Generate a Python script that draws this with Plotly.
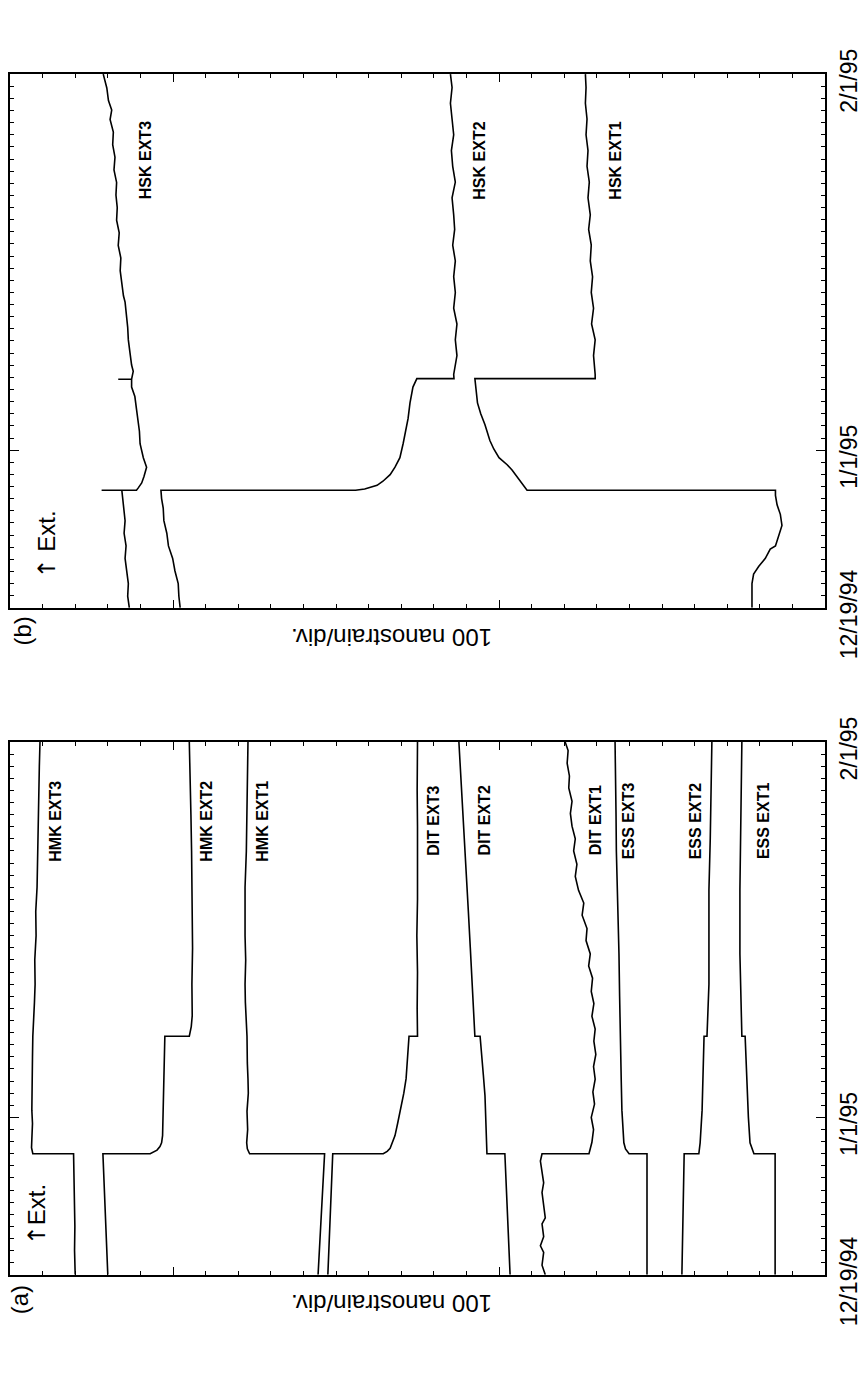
import pandas as pd
import plotly.graph_objects as go

START = pd.Timestamp("1994-12-19")

# ---------------- Panel (a): HMK, DIT and ESS extensometers ----------------
# days after 12/19/94  /  strain in nanostrain
hmk3_day = [0, 2, 4, 6, 8, 10, 10, 10.5, 11.2, 12.5, 13.6, 15, 16.5, 18, 19.7, 21, 22.5, 24, 26, 28, 30, 32, 34, 36, 38, 40, 42, 44]
hmk3_ns = [2300, 2302, 2301, 2303, 2303, 2305, 2430, 2434, 2433, 2431, 2433, 2432, 2430, 2431, 2430, 2427, 2425, 2423, 2424, 2420, 2421, 2417, 2416, 2414, 2412, 2411, 2410, 2408]

hmk2_day = [0, 2, 4, 6, 8, 10, 10, 10.3, 10.6, 10.9, 11.5, 13.6, 15.5, 17.5, 19.3, 19.7, 19.7, 20.5, 21.4, 24, 27, 30, 32, 35, 38, 41, 44]
hmk2_ns = [2200, 2203, 2205, 2208, 2212, 2215, 2070, 2049, 2040, 2035, 2032, 2030, 2029, 2027, 2025, 2025, 1950, 1944, 1941, 1942, 1940, 1941, 1940, 1943, 1945, 1947, 1950]

hmk1_day = [0, 2, 4, 6, 8, 10, 10, 10.4, 10.9, 12, 13.5, 15, 16.2, 17.5, 19.7, 21, 22.5, 24, 26, 28, 30, 32, 35, 38, 41, 44]
hmk1_ns = [1555, 1551, 1547, 1543, 1539, 1535, 1765, 1772, 1774, 1771, 1773, 1769, 1770, 1772, 1773, 1776, 1778, 1779, 1777, 1779, 1778, 1779, 1775, 1773, 1771, 1770]

dit3_day = [0, 2, 4, 6, 8, 10, 10, 10.2, 10.45, 11, 11.5, 12.5, 13.6, 15, 16.2, 17.5, 19.3, 19.7, 19.7, 22, 25, 28, 31, 34, 37, 40, 44]
dit3_ns = [1525, 1522, 1519, 1516, 1513, 1510, 1355, 1343, 1334, 1326, 1319, 1311, 1302, 1292, 1285, 1281, 1277, 1276, 1250, 1251, 1250, 1252, 1250, 1249, 1250, 1251, 1250]

dit2_day = [0, 2, 4, 6, 8, 10, 10, 11, 13, 14.8, 16.5, 18, 19.7, 19.7, 22, 24, 27, 30, 32, 34, 36.3, 38, 40, 42, 44]
dit2_ns = [966, 969, 972, 975, 978, 982, 1037, 1038, 1040, 1043, 1048, 1053, 1058, 1074, 1079, 1083, 1088, 1094, 1098, 1102, 1107, 1111, 1115, 1119, 1123]

dit1_day = [0, 0.8, 1.85, 2.4, 3.15, 4.2, 4.7, 5.75, 6.8, 7.6, 8.35, 9.4, 10, 10,
            10.95, 12.0, 13.0, 14.1, 15.1, 16.15, 17.2, 18.2, 19.3, 20.3,
            21.35, 22.4, 23.4, 24.5, 25.5, 26.5, 27.6, 28.6, 29.7, 30.7,
            31.75, 32.9, 33.9, 35.0, 36.0, 37.05, 38.1, 39.1, 40.2, 41.2,
            42.25, 43.3, 44]
dit1_ns = [858, 868, 863, 873, 863, 868, 858, 863, 868, 863, 868, 873, 868, 724,
           715, 710, 717, 707, 712, 705, 710, 703, 709, 705,
           715, 709, 717, 713, 725, 720, 733, 730, 745, 740,
           756, 766, 761, 771, 766, 776, 781, 776, 786, 784,
           791, 788, 797]

ess3_day = [0, 5, 10, 10, 10.4, 10.9, 12, 13.6, 16, 18, 20, 23, 26.5, 29, 31.8, 35, 38, 41, 44]
ess3_ns = [546, 546, 546, 601, 612, 617, 620, 623, 625, 627, 629, 630, 632, 635, 638, 640, 641, 643, 644]

ess2_day = [0, 5, 10, 10, 10.5, 10.9, 13.6, 16, 19.7, 19.7, 22, 24, 28, 31.8, 36, 40, 44]
ess2_ns = [439, 436, 432, 387, 384, 383, 377, 374, 371, 362, 358, 356, 356, 356, 352, 349, 347]

ess1_day = [0, 5, 10, 10, 10.5, 10.9, 13, 16.2, 19.7, 19.7, 23, 26.5, 31.8, 36, 40, 44]
ess1_ns = [153, 153, 153, 218, 226, 230, 235, 239, 245, 255, 259, 261, 261, 259, 257, 255]

# ---------------- Panel (b): HSK extensometers ----------------
hsk3_day = [0, 0.96, 2.0, 3.04, 4.08, 5.11, 6.15, 7.19, 8.49, 9.7, 9.7, 9.7,
            9.91, 10.3, 10.83, 11.6, 12.38, 13.53, 14.56, 15.6, 16.38, 17.42,
            18.2, 18.85, 18.85, 18.85,
            19.5, 20.02, 21.05, 22.09, 23.13, 24.17, 25.21, 25.73, 26.77, 27.8,
            28.84, 29.88, 30.92, 31.96, 33.0, 34.03, 35.07, 36.11, 37.15, 38.19,
            39.23, 40.26, 41.04, 41.82, 42.86, 44]
hsk3_ns = [2134, 2139, 2137, 2142, 2147, 2144, 2150, 2147, 2152, 2157, 2219, 2112,
           2106, 2096, 2089, 2081, 2091, 2101, 2103, 2107, 2112, 2117,
           2127, 2127, 2168, 2127,
           2122, 2127, 2132, 2137, 2139, 2142, 2147, 2152, 2157, 2162,
           2160, 2168, 2165, 2173, 2171, 2175, 2173, 2181, 2178, 2185,
           2183, 2193, 2188, 2198, 2203, 2214]

hsk2_day = [0, 0.96, 2.0, 3.04, 4.08, 5.11, 6.15, 7.19, 8.23, 9.01, 9.7, 9.7,
            9.8, 9.95, 10.1, 10.44, 10.98, 11.6, 12.38, 13.55, 14.6, 15.6,
            16.9, 18.2, 18.9, 18.9,
            19.24, 20.8, 22.1, 23.4, 24.7, 26.0, 27.3, 28.6, 29.9, 31.2,
            32.4, 33.8, 35.1, 36.4, 37.7, 39.0, 40.3, 41.6, 42.9, 44]
hsk2_ns = [1978, 1982, 1984, 1994, 2001, 2014, 2019, 2028, 2030, 2035, 2037, 1440,
           1412, 1392, 1374, 1356, 1334, 1319, 1304, 1294, 1286, 1279,
           1273, 1264, 1252, 1138,
           1139, 1129, 1134, 1129, 1139, 1134, 1139, 1134, 1142, 1136,
           1139, 1144, 1134, 1142, 1146, 1139, 1144, 1149, 1144, 1149]

hsk1_day = [0, 0.3, 2.0, 2.78, 3.43, 4.08, 4.85, 5.11, 5.89, 6.8, 7.71, 8.49, 9.27, 9.7, 9.7,
            10.28, 10.8, 11.37, 11.8, 12.38, 13.1, 13.8, 15.1, 16.0, 16.9, 17.9, 18.9, 18.9,
            19.24, 20.8, 22.1, 23.4, 24.7, 26.0, 27.3, 28.6, 29.9, 31.2,
            32.4, 33.8, 35.1, 36.4, 37.7, 39.0, 40.3, 41.6, 42.9, 44]
hsk1_ns = [224, 224, 224, 219, 203, 183, 168, 152, 142, 132, 137, 147, 152, 152, 914,
           929, 945, 960, 975, 1000, 1016, 1028, 1043, 1056, 1066, 1070, 1074, 705,
           705, 710, 705, 716, 710, 717, 713, 720, 717, 725,
           720, 727, 723, 730, 727, 733, 730, 735, 733, 735]

# Series labels
labels_a = ["HMK EXT3", "HMK EXT2", "HMK EXT1", "DIT EXT3", "DIT EXT2",
            "DIT EXT1", "ESS EXT3", "ESS EXT2", "ESS EXT1"]
labels_b = ["HSK EXT3", "HSK EXT2", "HSK EXT1"]

# Time-axis ticks
tick_dates = ["1994-12-19", "1995-01-01", "1995-02-01"]
tick_text = ["12/19/94", "1/1/95", "2/1/95"]


def to_dates(days):
    return [START + pd.Timedelta(days=d) for d in days]


FONT = "Liberation Sans, Arial, sans-serif"
W, H = 864, 1374
LINE = dict(color="black", width=1.6)

fig = go.Figure()

series_a = [(hmk3_day, hmk3_ns), (hmk2_day, hmk2_ns), (hmk1_day, hmk1_ns),
            (dit3_day, dit3_ns), (dit2_day, dit2_ns), (dit1_day, dit1_ns),
            (ess3_day, ess3_ns), (ess2_day, ess2_ns), (ess1_day, ess1_ns)]
series_b = [(hsk3_day, hsk3_ns), (hsk2_day, hsk2_ns), (hsk1_day, hsk1_ns)]

for (days, vals), name in zip(series_a, labels_a):
    fig.add_trace(go.Scatter(x=vals, y=to_dates(days), mode="lines", name=name,
                             line=LINE, xaxis="x", yaxis="y",
                             showlegend=False, hoverinfo="skip"))
for (days, vals), name in zip(series_b, labels_b):
    fig.add_trace(go.Scatter(x=vals, y=to_dates(days), mode="lines", name=name,
                             line=LINE, xaxis="x2", yaxis="y2",
                             showlegend=False, hoverinfo="skip"))

x_dom = [10 / W, 825 / W]
ya_dom = [1 - 1323 / H, 1 - 759 / H]
yb_dom = [1 - 617 / H, 1 - 52 / H]

strain_axis = dict(
    range=[2500, 0], tickmode="linear", tick0=0, dtick=1000,
    ticks="inside", ticklen=8, tickwidth=1.3, tickcolor="black",
    showticklabels=False, showline=True, linewidth=1.8, linecolor="black",
    mirror="allticks", showgrid=False, zeroline=False,
    minor=dict(tickmode="linear", tick0=0, dtick=100, ticks="inside",
               ticklen=4, tickwidth=1.2, tickcolor="black", showgrid=False),
    domain=x_dom,
)

time_axis = dict(
    type="date", range=["1994-12-19", "1995-02-01"], side="right",
    tickmode="array", tickvals=tick_dates, ticktext=tick_text, tickangle=-90,
    ticks="inside", ticklen=9, tickwidth=1.3, tickcolor="black",
    tickfont=dict(family=FONT, size=23, color="black"),
    ticklabelshift=10, ticklabelstandoff=2,
    showline=True, linewidth=1.8, linecolor="black", mirror="allticks",
    showgrid=False, zeroline=False,
    minor=dict(tickmode="linear", tick0="1994-12-19", dtick=86400000,
               ticks="inside", ticklen=4, tickwidth=1.2, tickcolor="black",
               showgrid=False),
)

fig.update_layout(
    width=W, height=H,
    margin=dict(l=0, r=0, t=0, b=0),
    paper_bgcolor="white", plot_bgcolor="white",
    showlegend=False,
    xaxis=dict(strain_axis, anchor="y"),
    yaxis=dict(time_axis, anchor="x", domain=ya_dom),
    xaxis2=dict(strain_axis, anchor="y2"),
    yaxis2=dict(time_axis, anchor="x2", domain=yb_dom),
)

annotations = []

# Series labels, rotated alongside their traces
label_pos_a = [2359, 1896, 1724, 1199, 1044, 704, 603, 397, 189]
label_pos_b = [2086, 1060, 643]
label_date_a = START + pd.Timedelta(days=37.5)
label_date_b = START + pd.Timedelta(days=36.9)
for text, xv in zip(labels_a, label_pos_a):
    annotations.append(dict(x=xv, y=label_date_a, xref="x", yref="y",
                            text=f"<b>{text}</b>", textangle=-90, showarrow=False,
                            xanchor="center", yanchor="middle",
                            font=dict(family=FONT, size=16, color="black")))
for text, xv in zip(labels_b, label_pos_b):
    annotations.append(dict(x=xv, y=label_date_b, xref="x2", yref="y2",
                            text=f"<b>{text}</b>", textangle=-90, showarrow=False,
                            xanchor="center", yanchor="middle",
                            font=dict(family=FONT, size=16, color="black")))

ARROW = '<span style="font-family:DejaVu Sans">↑</span>'

# Panel letters, extension arrows and strain-scale captions
for panel, (px, py), (ex, ey), ext_text, (cx, cy) in [
    ("(a)", (19, 1350), (37, 1260), ARROW + "Ext.", (392, 1354)),
    ("(b)", (22, 642), (47, 550), ARROW + " Ext.", (392, 649)),
]:
    annotations.append(dict(x=px / W, y=1 - py / H, xref="paper", yref="paper",
                            text=panel, textangle=-90, showarrow=False,
                            xanchor="center", yanchor="middle",
                            font=dict(family=FONT, size=24, color="black")))
    annotations.append(dict(x=ex / W, y=1 - ey / H, xref="paper", yref="paper",
                            text=ext_text, textangle=-90, showarrow=False,
                            xanchor="center", yanchor="middle",
                            font=dict(family=FONT, size=24, color="black")))
    annotations.append(dict(x=cx / W, y=1 - cy / H, xref="paper", yref="paper",
                            text="100 nanostrain/div.", textangle=180, showarrow=False,
                            xanchor="center", yanchor="middle",
                            font=dict(family=FONT, size=24, color="black")))

fig.update_layout(annotations=annotations)

fig.write_html("out.html")
